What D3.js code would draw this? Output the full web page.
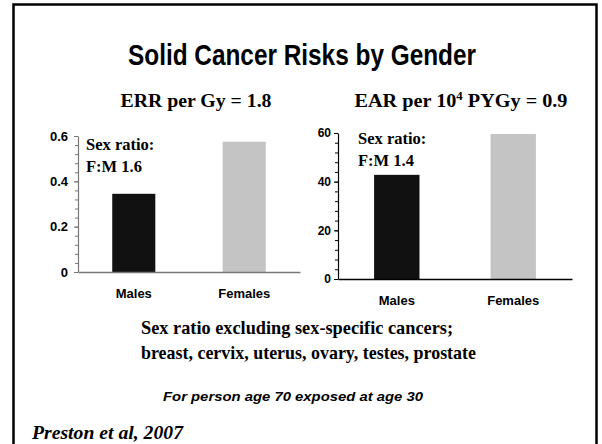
<!DOCTYPE html>
<html>
<head>
<meta charset="utf-8">
<script src="https://cdn.jsdelivr.net/npm/d3@7"></script>
<style>
  body { margin: 0; background: #fff; }
  svg { display: block; }
</style>
</head>
<body>
<svg id="chart" width="602" height="444"></svg>
<script>
// data
var categories = ["Males", "Females"];
var errValues = [0.345, 0.575];
var earValues = [42.8, 59.6];
var errTicks = [0, 0.2, 0.4, 0.6];
var errTickLabels = ["0", "0.2", "0.4", "0.6"];
var earTicks = [0, 20, 40, 60];
var earTickLabels = ["0", "20", "40", "60"];
var barColors = ["#111111", "#c4c4c4"];

var serif = "'Liberation Serif', 'Times New Roman', serif",
    sans = "'Liberation Sans', Arial, sans-serif";

var svg = d3.select("#chart");

// slide frame (no bottom edge)
svg.append("path")
    .attr("d", "M13.5,444 L13.5,4.5 L596.5,4.5 L596.5,444")
    .attr("fill", "none").attr("stroke", "#000").attr("stroke-width", 2.5);

function addText(x, y, str, size, family, opts) {
    opts = opts || {};
    var t = svg.append("text")
        .attr("x", x).attr("y", y)
        .attr("font-family", family)
        .attr("font-size", size)
        .attr("font-weight", "bold")
        .attr("font-style", opts.italic ? "italic" : "normal")
        .attr("text-anchor", opts.anchor || "start")
        .attr("fill", "#000")
        .text(str);
    if (opts.len) t.attr("textLength", opts.len).attr("lengthAdjust", "spacingAndGlyphs");
    return t;
}

addText(302, 65, "Solid Cancer Risks by Gender", 30, sans, {anchor: "middle", len: 348});

function drawPanel(cfg) {
    var x = d3.scaleBand().domain(categories)
        .range([cfg.x0, cfg.x1]).paddingInner(0.61).paddingOuter(0.31);
    var y = d3.scaleLinear().domain(cfg.domain).range([cfg.yBottom, cfg.yTop]);
    var g = svg.append("g");

    g.selectAll("rect.bar").data(cfg.values).enter().append("rect")
        .attr("class", "bar")
        .attr("x", function(d, i) { return x(categories[i]); })
        .attr("width", x.bandwidth())
        .attr("y", function(d) { return y(d); })
        .attr("height", function(d) { return y(0) - y(d); })
        .attr("fill", function(d, i) { return barColors[i]; });

    // minor ticks
    g.append("g").attr("transform", "translate(" + cfg.x0 + ",0)")
        .call(d3.axisLeft(y).tickValues(cfg.minor).tickSize(3).tickFormat(""))
        .call(function(a) {
            a.select(".domain").remove();
            a.selectAll("line").attr("stroke", cfg.axisColor);
        });

    // major ticks + labels
    g.append("g").attr("transform", "translate(" + cfg.x0 + ",0)")
        .call(d3.axisLeft(y).tickValues(cfg.ticks).tickSize(4).tickSizeOuter(0)
            .tickPadding(cfg.pad)
            .tickFormat(function(d, i) { return cfg.tickLabels[i]; }))
        .call(function(a) {
            a.select(".domain").attr("stroke", cfg.axisColor).attr("stroke-width", 1.2);
            a.selectAll("line").attr("stroke", cfg.axisColor);
            a.selectAll("text").attr("font-family", sans).attr("font-weight", "bold")
                .attr("font-size", cfg.tickSize).attr("fill", "#000");
        });

    // category axis
    g.append("g").attr("transform", "translate(0," + cfg.yBottom + ")")
        .call(d3.axisBottom(x).tickSize(0).tickSizeOuter(0).tickPadding(17))
        .call(function(a) {
            a.select(".domain").attr("stroke", cfg.axisColor).attr("stroke-width", 1.5);
            a.selectAll("text").attr("font-family", sans).attr("font-weight", "bold")
                .attr("font-size", 13).attr("fill", "#000");
        });

    var title = addText(cfg.titleX, 107, cfg.title, 19, serif, {anchor: "middle", len: cfg.titleLen});
    if (cfg.sup) {
        title.text(null);
        title.append("tspan").text(cfg.title);
        title.append("tspan").attr("dy", -7).attr("font-size", 12).text(cfg.sup);
        title.append("tspan").attr("dy", 7).text(cfg.titleRest);
    }

    addText(cfg.noteX, cfg.noteY, "Sex ratio:", 16.5, serif);
    addText(cfg.noteX, cfg.noteY + 22, cfg.ratio, 16.5, serif);
}

drawPanel({
    x0: 78, x1: 300, yBottom: 272, yTop: 136, domain: [0, 0.6],
    values: errValues, ticks: errTicks, tickLabels: errTickLabels,
    minor: d3.range(0, 0.601, 0.04), axisColor: "#777", pad: 6, tickSize: 13,
    title: "ERR per Gy = 1.8", titleX: 196, titleLen: 151,
    noteX: 86, noteY: 150, ratio: "F:M 1.6"
});

drawPanel({
    x0: 338, x1: 572, yBottom: 279, yTop: 133, domain: [0, 60],
    values: earValues, ticks: earTicks, tickLabels: earTickLabels,
    minor: d3.range(0, 60.1, 4), axisColor: "#000", pad: 3, tickSize: 12,
    title: "EAR per 10", sup: "4", titleRest: " PYGy = 0.9", titleX: 461, titleLen: 213,
    noteX: 358, noteY: 144, ratio: "F:M 1.4"
});

addText(141, 334, "Sex ratio excluding sex-specific cancers;", 19, serif, {len: 312});
addText(141, 359, "breast, cervix, uterus, ovary, testes, prostate", 19, serif, {len: 335});
addText(163, 401, "For person age 70 exposed at age 30", 12, sans, {italic: true, len: 260});
addText(32, 439, "Preston et al, 2007", 19, serif, {italic: true, len: 151});
</script>
</body>
</html>
